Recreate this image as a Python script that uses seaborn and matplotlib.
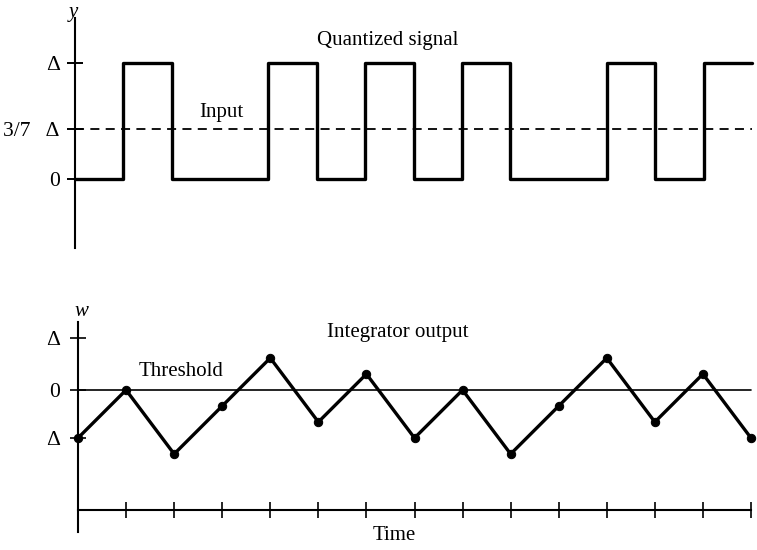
import matplotlib
matplotlib.use("Agg")
import matplotlib.pyplot as plt
import seaborn as sns
import pandas as pd

# ---- data ----
time = list(range(15))
quantized = [0, 1, 0, 0, 1, 0, 1, 0, 1, 0, 0, 1, 0, 1, 1]      # in units of Δ
input_signal = [3 / 7] * 15                                     # in units of Δ
integrator = [-3, 0, -4, -1, 2, -2, 1, -3, 0, -4, -1, 2, -2, 1, -3]  # in units of Δ/7
threshold = [0] * 15
top_ticks = [1, 3 / 7, 0]
top_labels = ["Δ", "3/7   Δ", "0"]
bot_ticks = [3.25, 0, -3]
bot_labels = ["Δ", "0", "Δ"]

sns.set_style("white")
plt.rcParams["font.family"] = ["Liberation Serif", "DejaVu Serif"]

W, H = 757, 550
fig = plt.figure(figsize=(W / 100, H / 100), dpi=100)


def rect(x0, y0, x1, y1):
    return [x0 / W, 1 - y1 / H, (x1 - x0) / W, (y1 - y0) / H]


df_top = pd.DataFrame({"t": time, "q": quantized, "inp": input_signal})
df_bot = pd.DataFrame({"t": time, "w": integrator, "thr": threshold})

# ---- top panel ----
ax1 = fig.add_axes(rect(75, 18, 752, 248))
sns.lineplot(data=df_top, x="t", y="q", ax=ax1, color="black", lw=2.4,
             drawstyle="steps-post", clip_on=False)
sns.lineplot(data=df_top, x="t", y="inp", ax=ax1, color="black", lw=1.3,
             dashes=False, linestyle=(0, (5, 3.5)), clip_on=False)
ax1.set_xlim(0, 14)
ax1.set_ylim(-0.595, 1.388)
for s in ["top", "right", "bottom"]:
    ax1.spines[s].set_visible(False)
ax1.spines["left"].set_color("black")
ax1.spines["left"].set_linewidth(1.5)
ax1.set_xticks([])
ax1.set_yticks(top_ticks)
ax1.set_yticklabels(top_labels)
ax1.tick_params(axis="y", direction="inout", length=12, width=1.4,
                labelsize=15.5, pad=5, colors="black", left=True)
ax1.set_xlabel("")
ax1.set_ylabel("")

# ---- bottom panel ----
ax2 = fig.add_axes(rect(78, 322, 751, 532))
sns.lineplot(data=df_bot, x="t", y="thr", ax=ax2, color="black", lw=1.2,
             clip_on=False)
sns.lineplot(data=df_bot, x="t", y="w", ax=ax2, color="black", lw=2.4,
             marker="o", markersize=6, markeredgecolor="black", clip_on=False)
ax2.set_xlim(0, 14)
ax2.set_ylim(-8.875, 4.25)
for s in ["top", "right"]:
    ax2.spines[s].set_visible(False)
ax2.spines["bottom"].set_position(("data", -7.5))
for s in ["left", "bottom"]:
    ax2.spines[s].set_color("black")
    ax2.spines[s].set_linewidth(1.5)
ax2.set_xticks(time[1:])
ax2.set_xticklabels([])
ax2.set_yticks(bot_ticks)
ax2.set_yticklabels(bot_labels)
ax2.tick_params(axis="both", direction="inout", length=12, width=1.2,
                labelsize=15.5, colors="black", left=True, bottom=True)
ax2.tick_params(axis="y", pad=7)
ax2.set_xlabel("")
ax2.set_ylabel("")


def ftext(x, y, s, **kw):
    fig.text(x / W, 1 - y / H, s, ha="center", va="center", fontsize=15,
             color="black", **kw)


ftext(73, 12, "y", style="italic")
ftext(81, 312, "w", style="italic")
ftext(388, 40, "Quantized signal")
ftext(221, 112, "Input")
ftext(398, 333, "Integrator output")
ftext(181, 371, "Threshold")
ftext(394, 536, "Time")

fig.savefig("out.png", dpi=100)
